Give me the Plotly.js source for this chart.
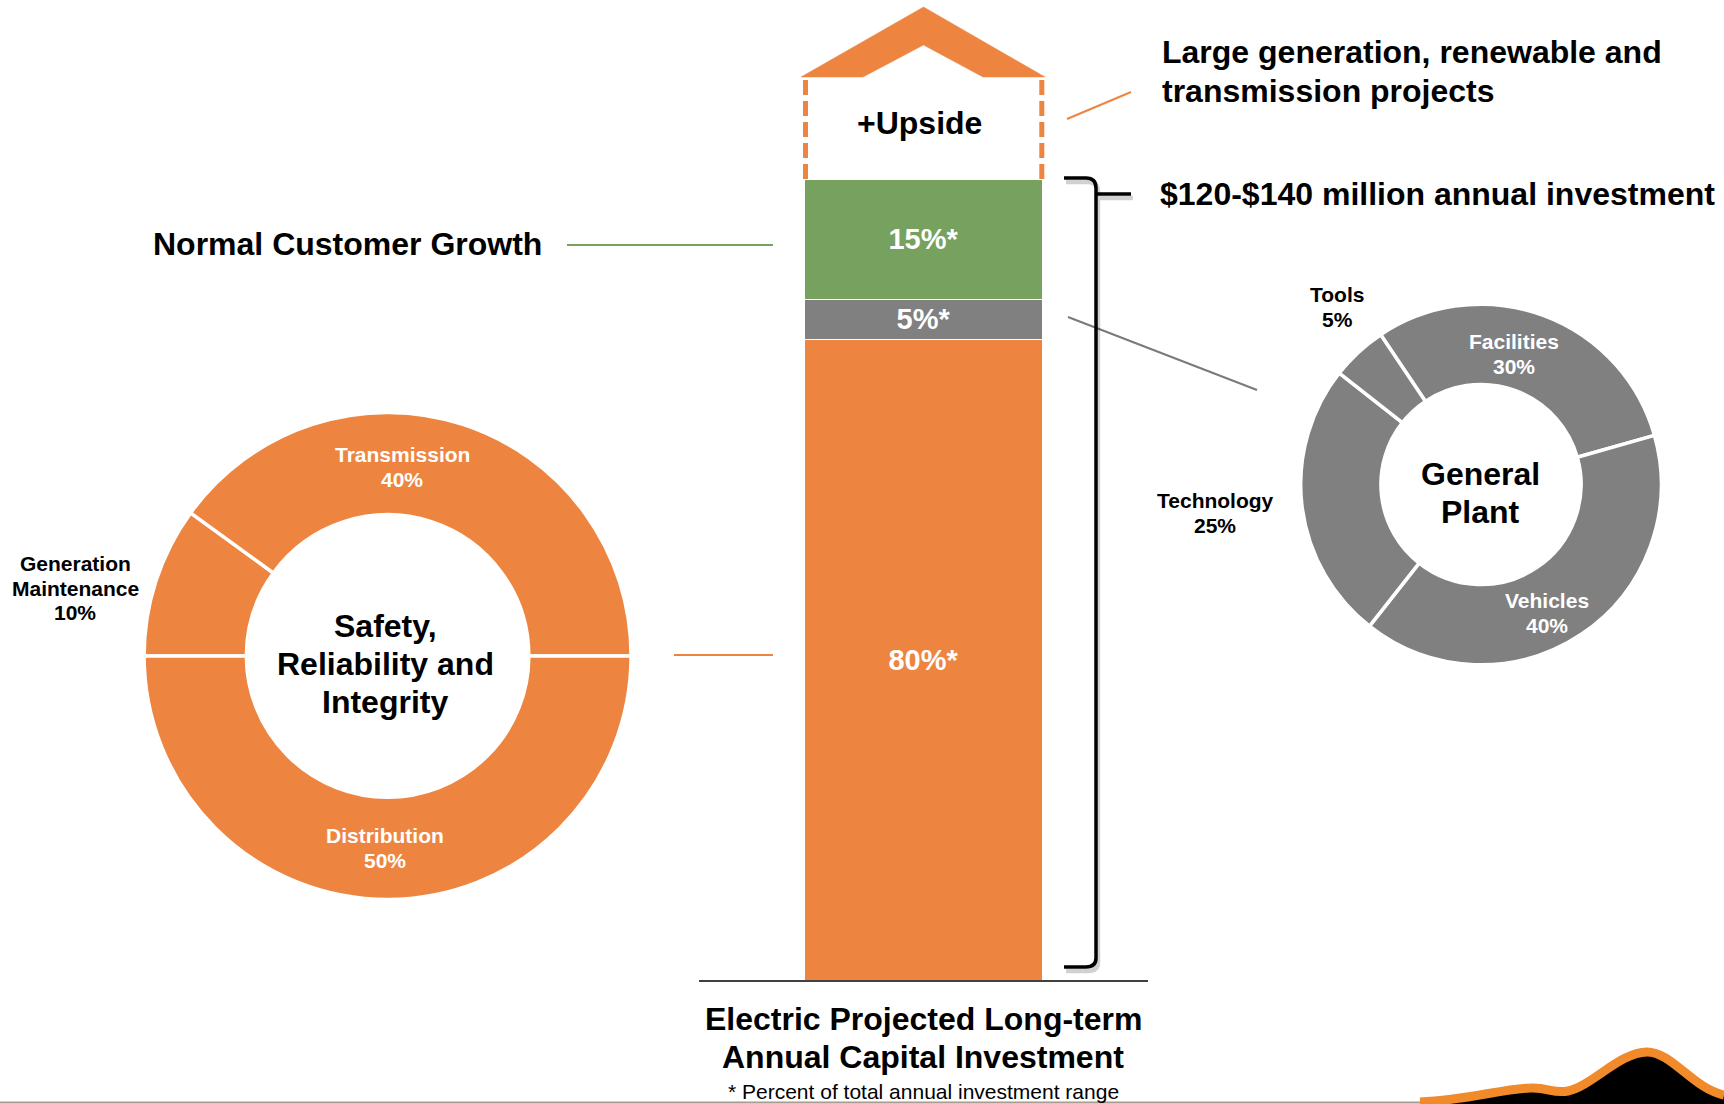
<!DOCTYPE html>
<html>
<head>
<meta charset="utf-8">
<script src="https://cdn.plot.ly/plotly-3.0.1.min.js"></script>
<style>html,body{margin:0;padding:0;background:#fff;}#chart{width:1724px;height:1104px;}</style>
</head>
<body>
<div id="chart"></div>
<script>
// ---------- DATA ----------
const barCategories = ['Safety, Reliability and Integrity', 'General Plant', 'Normal Customer Growth'];
const barShares = [80, 5, 15];
const safetyLabels = ['Generation Maintenance', 'Transmission', 'Distribution'];
const safetyValues = [10, 40, 50];
const plantLabels = ['Facilities', 'Vehicles', 'Technology', 'Tools'];
const plantValues = [30, 40, 25, 5];
const upsideLabel = '+Upside';
const upsideNote = ['Large generation, renewable and', 'transmission projects'];
const rangeLabel = '$120-$140 million annual investment';
const barTitle = ['Electric Projected Long-term', 'Annual Capital Investment'];
const footnote = '* Percent of total annual investment range';

// ---------- STYLE ----------
const W = 1724, H = 1104;
const FONT = 'Liberation Sans, Arial, Helvetica, sans-serif';
const ORANGE = '#ED8541', GREEN = '#77A15E', GRAY = '#808080';
const barColors = [ORANGE, GRAY, GREEN];
const fx = x => x / W;
const fy = y => 1 - y / H;
const pt = (x, y) => fx(x) + ',' + fy(y);

const traces = [];
// stacked bar
barShares.forEach((v, i) => {
  traces.push({
    type: 'bar', x: [0], y: [v], width: [1.065], name: barCategories[i],
    marker: {color: barColors[i], line: {color: '#ffffff', width: 1.5}},
    text: ['<b>' + v + '%*</b>'], textposition: 'inside', insidetextanchor: 'middle',
    constraintext: 'none', textangle: 0,
    textfont: {family: FONT, size: 29, color: '#ffffff'},
    hoverinfo: 'skip', showlegend: false
  });
});
// donuts
traces.push({
  type: 'pie', labels: safetyLabels, values: safetyValues, hole: 0.58,
  sort: false, direction: 'clockwise', rotation: -90,
  marker: {colors: safetyLabels.map(() => ORANGE), line: {color: '#ffffff', width: 3.5}},
  textinfo: 'none', hoverinfo: 'skip', showlegend: false,
  domain: {x: [fx(144.1), fx(631.1)], y: [fy(899.5), fy(412.5)]}
});
traces.push({
  type: 'pie', labels: plantLabels, values: plantValues, hole: 0.555,
  sort: false, direction: 'clockwise', rotation: -33.8,
  marker: {colors: plantLabels.map(() => GRAY), line: {color: '#ffffff', width: 3.5}},
  textinfo: 'none', hoverinfo: 'skip', showlegend: false,
  domain: {x: [fx(1300.7), fx(1661.3)], y: [fy(664.8), fy(304.2)]}
});

// ---------- ANNOTATIONS ----------
const ann = [];
function lines(arr, x, yc, spacing, size, color, xanchor, bold) {
  const n = arr.length;
  arr.forEach((t, k) => {
    const y = yc + (k - (n - 1) / 2) * spacing;
    ann.push({xref: 'paper', yref: 'paper', x: fx(x), y: fy(y), xanchor: xanchor || 'center', yanchor: 'middle',
      text: bold === false ? t : '<b>' + t + '</b>', showarrow: false,
      font: {family: FONT, size: size, color: color}});
  });
}
function sliceText(label, value) {
  const words = label.length > 12 ? label.split(' ') : [label];
  return words.concat([value + '%']);
}
// safety donut labels
const safetyPos = [[75, 588, '#000'], [402, 467, '#fff'], [385, 848, '#fff']];
safetyLabels.forEach((l, i) => lines(sliceText(l, safetyValues[i]), safetyPos[i][0], safetyPos[i][1], 24.5, 21, safetyPos[i][2]));
// plant donut labels
const plantPos = [[1514, 354, '#fff'], [1547, 613, '#fff'], [1215, 513, '#000'], [1337, 307, '#000']];
plantLabels.forEach((l, i) => lines(sliceText(l, plantValues[i]), plantPos[i][0], plantPos[i][1], 24.5, 21, plantPos[i][2]));
// donut centers
lines(['Safety,', 'Reliability and', 'Integrity'], 385, 664, 38, 32, '#000');
lines(['General', 'Plant'], 1480, 493, 38, 32, '#000');
// other text
lines([upsideLabel], 919, 123, 38, 32, '#000');
lines(upsideNote, 1160, 71.5, 39.5, 32, '#000', 'left');
lines([rangeLabel], 1158, 193.5, 38, 32, '#000', 'left');
lines([barCategories[2]], 347, 244, 38, 32, '#000');
lines(barTitle, 923, 1038, 37.5, 32, '#000');
lines([footnote], 923, 1091, 24, 21, '#000', 'center', false);

// ---------- SHAPES ----------
const shapes = [];
function seg(x0, y0, x1, y1, color, width, dash) {
  shapes.push({type: 'line', xref: 'paper', yref: 'paper', x0: fx(x0), y0: fy(y0), x1: fx(x1), y1: fy(y1),
    line: {color: color, width: width, dash: dash || 'solid'}});
}
function path(d, color, width, fill) {
  shapes.push({type: 'path', xref: 'paper', yref: 'paper', path: d,
    line: {color: color, width: width}, fillcolor: fill || 'rgba(0,0,0,0)'});
}
// baseline under bar
shapes.push({type: 'line', xref: 'x', yref: 'y', x0: -1, x1: 1, y0: 0, y1: 0, line: {color: '#404040', width: 2}});
// roof
path('M' + pt(801, 77) + 'L' + pt(923.5, 7) + 'L' + pt(1045, 77) + 'L' + pt(983, 77) + 'L' + pt(923.5, 45) + 'L' + pt(863, 77) + 'Z', ORANGE, 0.5, ORANGE);
// dashed walls
seg(805.5, 80, 805.5, 181, ORANGE, 5, '15px,6px');
seg(1041.8, 80, 1041.8, 181, ORANGE, 5, '15px,6px');
// connectors
seg(567, 245, 773, 245, GREEN, 2);
seg(674, 655, 773, 655, ORANGE, 2);
seg(1068, 317, 1257, 390, '#7a7a7a', 2);
seg(1067, 119, 1131, 92, ORANGE, 2);
// brace (shadow then line)
const braceD = (dx, dy) =>
  'M' + pt(1064 + dx, 178 + dy) + 'L' + pt(1086 + dx, 178 + dy) + 'Q' + pt(1096 + dx, 178 + dy) + ' ' + pt(1096 + dx, 188 + dy) +
  'L' + pt(1096 + dx, 958 + dy) + 'Q' + pt(1096 + dx, 967 + dy) + ' ' + pt(1086 + dx, 967 + dy) + 'L' + pt(1064 + dx, 967 + dy) +
  'M' + pt(1096 + dx, 194 + dy) + 'L' + pt(1131 + dx, 194 + dy);
path(braceD(2, 4), 'rgba(0,0,0,0.18)', 4.5);
path(braceD(0, 0), '#000', 3.5);
// bottom rule and mountain logo
seg(0, 1102.5, W, 1102.5, '#a89c90', 2);
const mtn = 'M' + pt(1420, 1102) + 'C' + pt(1470, 1100) + ' ' + pt(1500, 1089) + ' ' + pt(1530, 1088) +
  'C' + pt(1548, 1087) + ' ' + pt(1553, 1094) + ' ' + pt(1568, 1091) +
  'C' + pt(1592, 1086) + ' ' + pt(1620, 1052) + ' ' + pt(1647, 1052) +
  'C' + pt(1672, 1052) + ' ' + pt(1692, 1088) + ' ' + pt(1724, 1095);
path(mtn + 'L' + pt(1724, 1104) + 'L' + pt(1420, 1104) + 'Z', '#000', 0, '#000');
path(mtn, '#F08A2A', 9);

const layout = {
  width: W, height: H, margin: {l: 0, r: 0, t: 0, b: 0, pad: 0},
  paper_bgcolor: '#ffffff', plot_bgcolor: 'rgba(0,0,0,0)',
  barmode: 'stack', bargap: 0, showlegend: false,
  font: {family: FONT},
  xaxis: {domain: [fx(699), fx(1148)], range: [-1, 1], visible: false, fixedrange: true},
  yaxis: {domain: [0, 1], range: [-15.34, 122.32], visible: false, fixedrange: true},
  annotations: ann, shapes: shapes
};
Plotly.newPlot('chart', traces, layout, {displayModeBar: false, staticPlot: true});
</script>
</body>
</html>
